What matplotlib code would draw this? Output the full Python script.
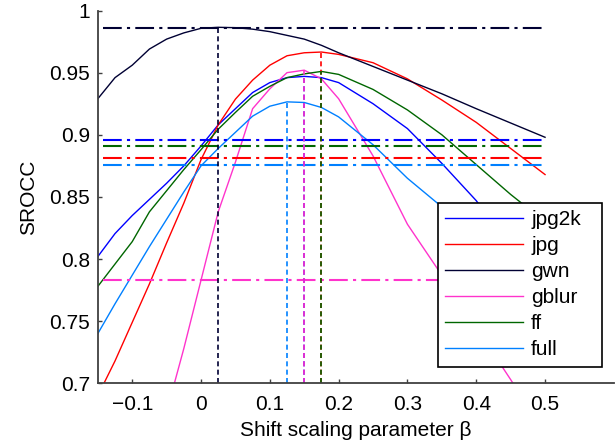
import matplotlib
matplotlib.use('Agg')
import matplotlib.pyplot as plt

plt.rcParams['font.family'] = ['Liberation Sans', 'DejaVu Sans']

# shift scaling parameter (finer sampling below 0.2)
beta = [-0.15, -0.125, -0.1, -0.075, -0.05, -0.025, 0.0, 0.025, 0.05, 0.075, 0.1,
        0.125, 0.15, 0.175, 0.2, 0.25, 0.3, 0.35, 0.4, 0.45, 0.5]

jpg2k = [0.802, 0.8205, 0.835, 0.848, 0.861, 0.875, 0.891, 0.908, 0.921, 0.934, 0.942,
         0.946, 0.947, 0.946, 0.942, 0.925, 0.905, 0.877, 0.847, 0.81, 0.77]
jpg = [0.690, 0.718, 0.749, 0.780, 0.813, 0.845, 0.880, 0.908, 0.9287, 0.944, 0.956,
       0.9636, 0.966, 0.9666, 0.9647, 0.958, 0.945, 0.928, 0.910, 0.889, 0.868]
gwn = [0.929, 0.946, 0.956, 0.969, 0.977, 0.982, 0.9857, 0.9865, 0.9862, 0.985, 0.983,
       0.980, 0.977, 0.972, 0.966, 0.955, 0.944, 0.933, 0.921, 0.9095, 0.898]
gblur = [0.52, 0.57, 0.62, 0.65, 0.677, 0.728, 0.783, 0.838, 0.878, 0.921, 0.937,
         0.950, 0.952, 0.945, 0.929, 0.883, 0.828, 0.787, 0.745, 0.703, 0.66]
ff = [0.778, 0.796, 0.814, 0.838, 0.855, 0.872, 0.888, 0.9045, 0.918, 0.931, 0.939,
      0.946, 0.949, 0.951, 0.9486, 0.9365, 0.920, 0.900, 0.876, 0.852, 0.83]
full = [0.740, 0.764, 0.787, 0.810, 0.832, 0.854, 0.875, 0.889, 0.902, 0.915, 0.923,
        0.9265, 0.926, 0.922, 0.9144, 0.892, 0.865, 0.842, 0.81, 0.77, 0.73]

names = ['jpg2k', 'jpg', 'gwn', 'gblur', 'ff', 'full']
series = [jpg2k, jpg, gwn, gblur, ff, full]
colors = ['#0000ff', '#ff0000', '#000033', '#ff33cc', '#006600', '#0080ff']

# SROCC without shift (dash-dot) and best beta (dashed)
baseline = [0.8956, 0.881, 0.9857, 0.7828, 0.891, 0.876]
best_beta = [0.15, 0.175, 0.025, 0.15, 0.175, 0.125]
line_start, line_end = -0.142, 0.5

fig = plt.figure(figsize=(6.16, 4.48), dpi=100)
ax = fig.add_axes([0.1588, 0.1444, 0.8377, 0.8321])

for name, ys, c in zip(names, series, colors):
    ax.plot(beta, ys, color=c, lw=1.0, label=name)

for b, c in zip(baseline, colors):
    ax.plot([line_start, line_end], [b, b], color=c, lw=1.5,
            dashes=(9, 2.5, 1.5, 2.5))

for bb, ys, c in zip(best_beta, series, colors):
    top = ys[beta.index(bb)]
    ax.plot([bb, bb], [0.7, top], color=c, lw=1.2, dashes=(3, 2))

ax.set_xlim(-0.15, 0.6)
ax.set_ylim(0.7, 1.0)
ax.set_xticks([-0.1, 0, 0.1, 0.2, 0.3, 0.4, 0.5])
ax.set_xticklabels(['\u22120.1', '0', '0.1', '0.2', '0.3', '0.4', '0.5'])
ax.set_yticks([0.7, 0.75, 0.8, 0.85, 0.9, 0.95, 1.0])
ax.set_yticklabels(['0.7', '0.75', '0.8', '0.85', '0.9', '0.95', '1'])

for s in ['top', 'right']:
    ax.spines[s].set_visible(False)
for s in ['left', 'bottom']:
    ax.spines[s].set_color('#404040')
    ax.spines[s].set_linewidth(1.3)

ax.tick_params(axis='both', direction='in', length=3, width=1, color='#404040',
               labelsize=15)
ax.tick_params(axis='y', pad=5.5)
ax.tick_params(axis='x', pad=8.5)

ax.set_xlabel('Shift scaling parameter \u03b2', fontsize=15, labelpad=5)
ax.set_ylabel('SROCC', fontsize=15, labelpad=8)

leg = ax.legend(loc='upper left', bbox_to_anchor=(0.6587, 0.0376, 0.318, 0.4468),
                mode='expand', borderaxespad=0, fontsize=15, handlelength=3.74,
                handletextpad=0.38, labelspacing=0.336, borderpad=0.366,
                fancybox=False, framealpha=1, edgecolor='black')
leg.get_frame().set_linewidth(1.2)

fig.savefig('out.png', dpi=100)
